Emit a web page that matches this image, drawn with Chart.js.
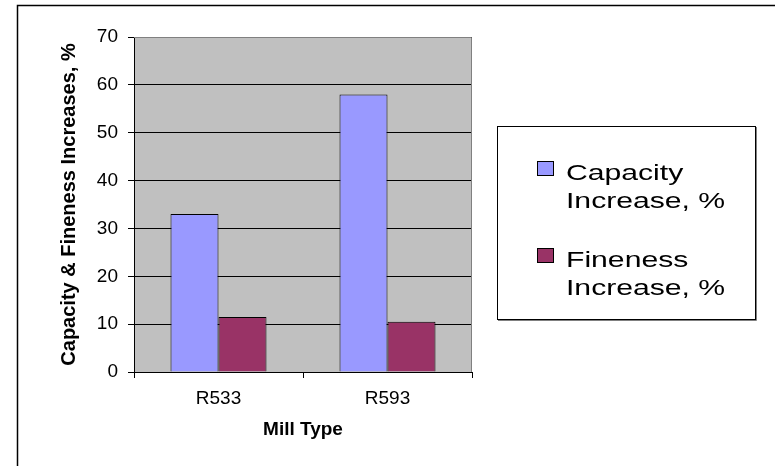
<!DOCTYPE html>
<html>
<head>
<meta charset="utf-8">
<script src="https://cdn.jsdelivr.net/npm/chart.js@4.4.1/dist/chart.umd.min.js"></script>
<style>
  html, body { margin: 0; padding: 0; background: #fff; }
  #wrap { width: 775px; height: 466px; }
</style>
</head>
<body>
<div id="wrap"><canvas id="grafico"></canvas></div>
<script>
// dados do gráfico
const millTypes = ['R533', 'R593'];
const capacityIncrease = [33, 58];
const finenessIncrease = [11.5, 10.5];
const seriesNames = ['Capacity Increase, %', 'Fineness Increase, %'];
const yTicks = [0, 10, 20, 30, 40, 50, 60, 70];

const FONTE = '"Liberation Sans", Arial, sans-serif';

// fundo cinza da área do gráfico
const fundoPlot = {
    id: 'fundoPlot',
    beforeDraw(chart) {
        const { ctx, chartArea: a } = chart;
        ctx.save();
        ctx.fillStyle = '#ffffff';
        ctx.fillRect(0, 0, chart.width, chart.height);
        ctx.fillStyle = '#c0c0c0';
        ctx.fillRect(a.left, a.top, a.right - a.left, a.bottom - a.top);
        ctx.restore();
    },
    afterDraw(chart) {
        const { ctx, chartArea: a } = chart;
        ctx.save();
        // borda cinza em cima e à direita
        ctx.strokeStyle = '#808080';
        ctx.lineWidth = 1;
        ctx.beginPath();
        ctx.moveTo(a.left, a.top + 0.5);
        ctx.lineTo(a.right - 0.5, a.top + 0.5);
        ctx.lineTo(a.right - 0.5, a.bottom);
        ctx.stroke();
        // moldura externa
        ctx.strokeStyle = '#000';
        ctx.lineWidth = 1.5;
        ctx.strokeRect(17.5, 5.5, 800, 500);
        ctx.restore();
    }
};

// legenda com caixa e texto em duas linhas
const legendaCaixa = {
    id: 'legendaCaixa',
    afterDraw(chart) {
        const ctx = chart.ctx;
        ctx.save();
        ctx.strokeStyle = '#000';
        ctx.lineWidth = 1;
        ctx.strokeRect(497.5, 126.5, 258, 193);
        ctx.strokeStyle = '#808080';
        ctx.beginPath();
        ctx.moveTo(498, 320.5);
        ctx.lineTo(756.5, 320.5);
        ctx.lineTo(756.5, 127);
        ctx.stroke();

        const baselines = [180, 267];
        chart.data.datasets.forEach((ds, i) => {
            const b = baselines[i];
            ctx.fillStyle = ds.backgroundColor;
            ctx.fillRect(537, b - 19, 17, 15);
            ctx.strokeStyle = '#000';
            ctx.lineWidth = 1;
            ctx.strokeRect(537.5, b - 18.5, 16, 14);

            const partes = ds.label.split(' ');
            const linhas = [partes[0], partes.slice(1).join(' ')];
            ctx.fillStyle = '#000';
            ctx.font = '22px ' + FONTE;
            ctx.textBaseline = 'alphabetic';
            linhas.forEach((txt, j) => {
                ctx.save();
                ctx.translate(566, b + j * 27.5);
                ctx.scale(1.37, 1);
                ctx.fillText(txt, 0, 0);
                ctx.restore();
            });
        });
        ctx.restore();
    }
};

const ctxGrafico = document.getElementById('grafico').getContext('2d');
const grafico = new Chart(ctxGrafico, {
    type: 'bar',
    data: {
        labels: millTypes,
        datasets: [{
            label: seriesNames[0],
            data: capacityIncrease,
            backgroundColor: '#9999ff',
            borderColor: '#000',
            borderWidth: 1
        }, {
            label: seriesNames[1],
            data: finenessIncrease,
            backgroundColor: '#993366',
            borderColor: '#000',
            borderWidth: 1
        }]
    },
    options: {
        responsive: true,
        maintainAspectRatio: false,
        animation: false,
        devicePixelRatio: 1,
        layout: { padding: { left: 57, right: 303, top: 37, bottom: 20 } },
        datasets: {
            bar: { categoryPercentage: 0.568, barPercentage: 1, borderSkipped: 'start' }
        },
        plugins: {
            legend: { display: false },
            tooltip: { enabled: false }
        },
        scales: {
            x: {
                afterFit(s) { s.height = 74; },
                grid: { drawOnChartArea: false, drawTicks: true, tickLength: 6, color: '#000' },
                border: { color: '#000' },
                ticks: { color: '#000', padding: 9, font: { family: FONTE, size: 19 } },
                title: {
                    display: true, text: 'Mill Type', color: '#000',
                    padding: { top: 0, bottom: 5 },
                    font: { family: FONTE, size: 19, weight: 'bold' }
                }
            },
            y: {
                min: 0,
                max: 70,
                afterFit(s) { s.width = 77; },
                afterBuildTicks(s) { s.ticks = yTicks.map(v => ({ value: v })); },
                grid: { color: '#000', lineWidth: 1, drawTicks: true, tickLength: 6 },
                border: { color: '#000' },
                ticks: { color: '#000', padding: 10, font: { family: FONTE, size: 19 } },
                title: {
                    display: true, text: 'Capacity & Fineness Increases, %', color: '#000',
                    padding: { top: 0, bottom: 0 },
                    font: { family: FONTE, size: 20, weight: 'bold' }
                }
            }
        }
    },
    plugins: [fundoPlot, legendaCaixa]
});
</script>
</body>
</html>
